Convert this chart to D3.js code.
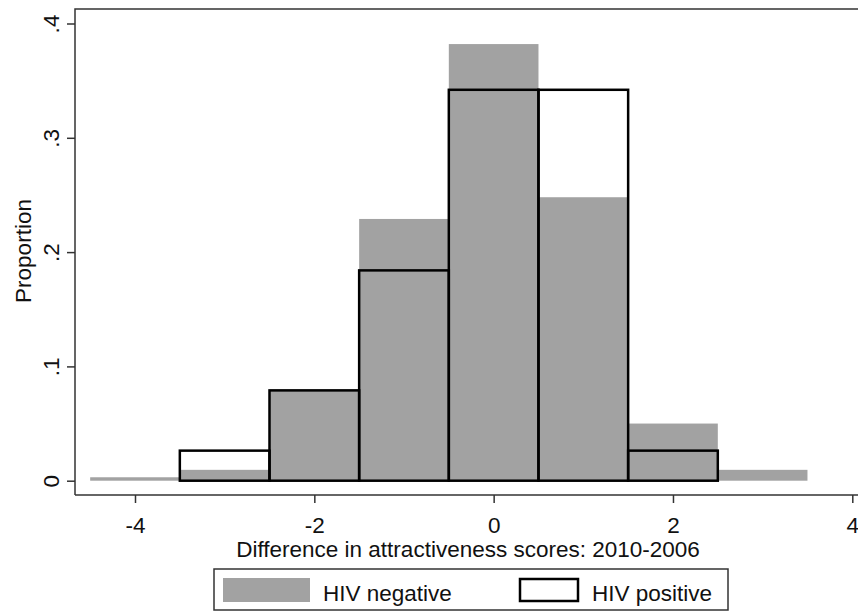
<!DOCTYPE html>
<html>
<head>
<meta charset="utf-8">
<script src="https://cdn.jsdelivr.net/npm/d3@7/dist/d3.min.js"></script>
<style>
  body { margin: 0; background: #fff; }
  svg { display: block; }
  text { font-family: "Liberation Sans", Arial, sans-serif; fill: #111; }
</style>
</head>
<body>
<svg id="chart" width="858" height="612"></svg>
<script>
// Bin centers (width 1)
const binCenters = [-4, -3, -2, -1, 0, 1, 2, 3];
const hivNegative = [0.003, 0.0095, 0.08, 0.229, 0.382, 0.248, 0.05, 0.0095];
const hivPositiveCenters = [-3, -2, -1, 0, 1, 2];
const hivPositive = [0.0263, 0.079, 0.184, 0.342, 0.342, 0.0263];
const xTicks = [-4, -2, 0, 2, 4];
const yTicks = [0, 0.1, 0.2, 0.3, 0.4];
const yTickLabels = ["0", ".1", ".2", ".3", ".4"];
const legendLabels = ["HIV negative", "HIV positive"];
const xTitle = "Difference in attractiveness scores: 2010-2006";
const yTitle = "Proportion";

(function () {
const svg = d3.select("#chart");
const pLeft = 75, pTop = 9, pBottom = 495, pRight = 870;
const FS = 22.5;

const x = d3.scaleLinear().domain([-4, 4]).range([135, 852.3]);
const y = d3.scaleLinear().domain([0, 0.4]).range([480.7, 23.5]);

// frame (left + top lines)
svg.append("path")
  .attr("d", `M${pLeft},${pBottom} L${pLeft},${pTop} L${pRight},${pTop}`)
  .attr("fill", "none").attr("stroke", "#333").attr("stroke-width", 1.5);

// HIV negative bars
svg.append("g").selectAll("rect").data(binCenters.map((c, i) => ({c, v: hivNegative[i]})))
  .join("rect")
  .attr("x", d => x(d.c - 0.5))
  .attr("width", d => x(d.c + 0.5) - x(d.c - 0.5))
  .attr("y", d => y(d.v))
  .attr("height", d => y(0) - y(d.v))
  .attr("fill", "#a2a2a2");

// HIV positive outlines
svg.append("g").selectAll("rect").data(hivPositiveCenters.map((c, i) => ({c, v: hivPositive[i]})))
  .join("rect")
  .attr("x", d => x(d.c - 0.5))
  .attr("width", d => x(d.c + 0.5) - x(d.c - 0.5))
  .attr("y", d => y(d.v))
  .attr("height", d => y(0) - y(d.v))
  .attr("fill", "none")
  .attr("stroke", "#000")
  .attr("stroke-width", 2.5);

// X axis
const xAxis = d3.axisBottom(x).tickValues(xTicks).tickSize(8).tickSizeOuter(0);
const gx = svg.append("g").attr("transform", `translate(0,${pBottom})`).call(xAxis);
gx.select(".domain").remove();
gx.append("line").attr("x1", pLeft).attr("x2", pRight).attr("y1", 0).attr("y2", 0)
  .attr("stroke", "#333").attr("stroke-width", 1.5);
gx.selectAll(".tick line").attr("stroke", "#333").attr("stroke-width", 1.5);
gx.selectAll(".tick text").attr("font-size", FS).attr("dy", 0).attr("y", 38)
  .style("font-family", '"Liberation Sans", Arial, sans-serif').attr("fill", "#111")
  .text(d => d < 0 ? "-" + Math.abs(d) : String(d));

// Y axis
const yAxis = d3.axisLeft(y).tickValues(yTicks).tickFormat((d, i) => yTickLabels[i]).tickSize(8).tickSizeOuter(0);
const gy = svg.append("g").attr("transform", `translate(${pLeft},0)`).call(yAxis);
gy.select(".domain").remove();
gy.selectAll(".tick line").attr("stroke", "#333").attr("stroke-width", 1.5);
gy.selectAll(".tick text")
  .attr("font-size", FS)
  .attr("x", 0).attr("y", 0).attr("dy", 0)
  .attr("text-anchor", "middle")
  .attr("transform", "translate(-16,0) rotate(-90)")
  .style("font-family", '"Liberation Sans", Arial, sans-serif').attr("fill", "#111");

// Axis titles
svg.append("text").attr("x", 468).attr("y", 557).attr("text-anchor", "middle")
  .attr("font-size", FS).text(xTitle);
svg.append("text").attr("transform", "translate(31,251) rotate(-90)").attr("text-anchor", "middle")
  .attr("font-size", FS).text(yTitle);

// Legend
const lg = svg.append("g");
lg.append("rect").attr("x", 214).attr("y", 569).attr("width", 514).attr("height", 41)
  .attr("fill", "#fff").attr("stroke", "#333").attr("stroke-width", 1.5);
lg.append("rect").attr("x", 223).attr("y", 578).attr("width", 87).attr("height", 24).attr("fill", "#a2a2a2");
lg.append("text").attr("x", 323).attr("y", 601).attr("font-size", FS).text(legendLabels[0]);
lg.append("rect").attr("x", 520).attr("y", 579).attr("width", 58).attr("height", 22)
  .attr("fill", "#fff").attr("stroke", "#000").attr("stroke-width", 2.5);
lg.append("text").attr("x", 592).attr("y", 601).attr("font-size", FS).text(legendLabels[1]);
})();
</script>
</body>
</html>
